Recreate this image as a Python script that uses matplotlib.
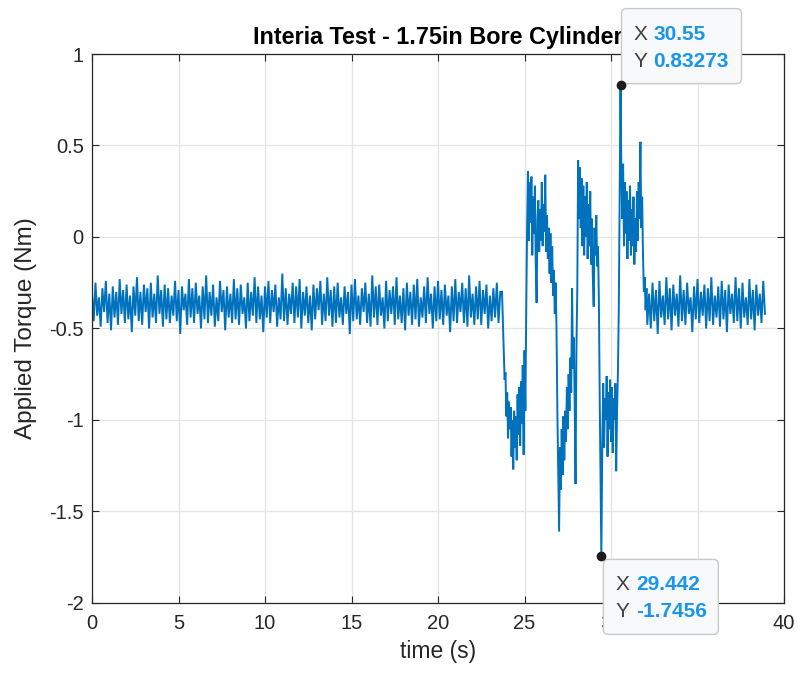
import numpy as np
import matplotlib
matplotlib.use('Agg')
import matplotlib.pyplot as plt
import matplotlib.transforms as mtransforms
from matplotlib.patches import FancyBboxPatch

plt.rcParams['font.family'] = ['Liberation Sans', 'DejaVu Sans']

############ data ##################################################################

dt = 0.1  # sample spacing used for the quiet stretches (s)

# quiet stretch before the test, t = 0 .. 23.6 s
quiet_before = [
    -0.31,-0.46,-0.25,-0.43,-0.33,-0.49,-0.28,-0.41,-0.24,-0.47,-0.31,-0.51,-0.27,-0.44,-0.30,-0.48,-0.23,-0.42,-0.29,-0.47,
    -0.26,-0.45,-0.32,-0.52,-0.27,-0.43,-0.22,-0.46,-0.30,-0.48,-0.26,-0.41,-0.28,-0.50,-0.25,-0.44,-0.31,-0.47,-0.21,-0.42,
    -0.29,-0.49,-0.26,-0.45,-0.28,-0.47,-0.32,-0.43,-0.24,-0.46,-0.29,-0.53,-0.27,-0.40,-0.31,-0.48,-0.23,-0.44,-0.28,-0.47,
    -0.25,-0.42,-0.32,-0.50,-0.27,-0.45,-0.21,-0.47,-0.30,-0.43,-0.26,-0.49,-0.33,-0.46,-0.24,-0.41,-0.29,-0.51,-0.27,-0.44,
    -0.31,-0.47,-0.23,-0.45,-0.28,-0.48,-0.26,-0.42,-0.33,-0.50,-0.25,-0.46,-0.30,-0.43,-0.22,-0.47,-0.27,-0.45,-0.32,-0.52,
    -0.27,-0.44,-0.24,-0.47,-0.29,-0.41,-0.26,-0.49,-0.33,-0.45,-0.20,-0.46,-0.28,-0.48,-0.31,-0.42,-0.25,-0.47,-0.27,-0.44,
    -0.23,-0.50,-0.30,-0.43,-0.27,-0.47,-0.32,-0.51,-0.26,-0.45,-0.28,-0.40,-0.24,-0.48,-0.31,-0.46,-0.22,-0.43,-0.29,-0.49,
    -0.27,-0.47,-0.25,-0.44,-0.33,-0.48,-0.27,-0.42,-0.30,-0.53,-0.26,-0.46,-0.23,-0.45,-0.32,-0.48,-0.28,-0.41,-0.25,-0.47,
    -0.31,-0.49,-0.21,-0.44,-0.27,-0.48,-0.26,-0.43,-0.33,-0.50,-0.24,-0.46,-0.29,-0.42,-0.27,-0.48,-0.22,-0.45,-0.32,-0.47,
    -0.28,-0.51,-0.25,-0.43,-0.30,-0.48,-0.26,-0.45,-0.23,-0.49,-0.33,-0.44,-0.27,-0.47,-0.22,-0.42,-0.31,-0.50,-0.27,-0.46,
    -0.24,-0.45,-0.29,-0.48,-0.26,-0.43,-0.32,-0.52,-0.27,-0.46,-0.23,-0.47,-0.30,-0.41,-0.25,-0.47,-0.28,-0.49,-0.21,-0.44,
    -0.31,-0.48,-0.27,-0.45,-0.24,-0.48,-0.29,-0.42,-0.26,-0.50,-0.32,-0.46,-0.28,-0.44,-0.25,-0.47,-0.30,
]

# the test itself, explicit times (s) and torque (Nm)
event_t = [23.7, 23.75, 23.8, 23.85, 23.9, 23.95, 24.0, 24.05, 24.1, 24.15, 24.2, 24.25, 24.3, 24.35,
           24.4, 24.45, 24.5, 24.55, 24.6, 24.65, 24.7, 24.75, 24.8, 24.85, 24.9, 24.95, 25.0, 25.05,
           25.1, 25.15, 25.2, 25.25, 25.3, 25.35, 25.4, 25.45, 25.5, 25.55, 25.6, 25.65, 25.7, 25.75,
           25.8, 25.85, 25.9, 25.95, 26.0, 26.05, 26.1, 26.15, 26.2, 26.25, 26.3, 26.35, 26.4, 26.45,
           26.5, 26.55, 26.6, 26.65, 26.7, 26.75, 26.8, 26.85, 26.9, 26.95, 27.0, 27.05, 27.1, 27.15,
           27.2, 27.25, 27.3, 27.35, 27.4, 27.45, 27.5, 27.55, 27.6, 27.65, 27.7, 27.75, 27.8, 27.85,
           27.9, 27.95, 28.0, 28.05, 28.1, 28.15, 28.2, 28.25, 28.3, 28.35, 28.4, 28.45, 28.5, 28.55,
           28.6, 28.65, 28.7, 28.75, 28.8, 28.85, 28.9, 28.95, 29.0, 29.05, 29.1, 29.15, 29.2, 29.25,
           29.3, 29.35, 29.442, 29.5, 29.55, 29.6, 29.65, 29.7, 29.75, 29.8, 29.85, 29.9, 29.95, 30.0,
           30.05, 30.1, 30.15, 30.2, 30.25, 30.3, 30.35, 30.4, 30.45, 30.55, 30.6, 30.65, 30.7, 30.75,
           30.8, 30.85, 30.9, 30.95, 31.0, 31.05, 31.1, 31.15, 31.2, 31.25, 31.3, 31.35, 31.4, 31.45,
           31.5, 31.55, 31.6, 31.65, 31.7, 31.75, 31.8, 31.85, 31.9, 31.95, 32.0, 32.05, 32.1]
event_v = [-0.30, -0.46, -0.62, -0.78, -0.74, -0.98, -0.85, -1.10, -0.90, -1.05, -0.93, -1.20, -1.00, -1.27,
           -0.95, -1.15, -0.98, -1.22, -0.86, -1.08, -0.82, -1.14, -0.79, -1.02, -0.70, -1.19, -0.62, -0.95,
           -0.40, 0.05, 0.36, -0.02, 0.30, 0.08, 0.33, -0.10, 0.22, 0.02, 0.28, -0.15, -0.36, 0.10,
           0.20, -0.08, 0.15, -0.02, 0.30, -0.05, 0.18, 0.03, 0.34, -0.08, 0.12, -0.12, 0.05, -0.20,
           0.02, -0.25, -0.05, -0.32, -0.18, -0.42, -0.25, -0.50, -0.95, -1.30, -1.61, -1.15, -1.38, -1.05,
           -1.30, -0.98, -1.22, -0.95, -1.12, -0.82, -1.05, -0.75, -0.95, -0.66, -0.85, -0.28, -0.72, -0.55,
           -0.90, -1.35, -0.62, -0.30, 0.42, 0.10, 0.38, 0.05, 0.32, -0.05, 0.28, -0.10, 0.22, 0.00,
           0.30, -0.12, 0.18, -0.05, 0.25, -0.15, 0.10, -0.22, -0.38, 0.05, -0.10, 0.12, -0.16, -0.05,
           -0.35, -0.90, -1.7456, -1.10, -0.80, -1.15, -0.88, -1.00, -0.76, -1.20, -0.85, -1.05, -0.78, -1.12,
           -0.82, -1.18, -0.88, -1.00, -0.80, -1.28, -0.95, -0.74, -0.40, 0.83273, 0.35, 0.10, 0.40, -0.05,
           0.30, 0.02, 0.25, -0.12, 0.20, -0.02, 0.28, -0.10, 0.15, -0.05, 0.22, -0.15, 0.10, -0.08,
           0.25, -0.02, 0.30, 0.10, 0.52, 0.05, 0.22, -0.10, -0.30, -0.22, -0.40, -0.28, -0.48]

# quiet stretch after the test, t = 32.2 .. 38.9 s
quiet_after_start = 32.2
quiet_after = [
    -0.31,-0.50,-0.25,-0.46,-0.29,-0.53,-0.24,-0.44,-0.32,-0.48,-0.22,-0.45,-0.28,-0.51,-0.26,-0.43,-0.31,-0.49,-0.21,-0.46,
    -0.29,-0.48,-0.25,-0.42,-0.33,-0.52,-0.27,-0.45,-0.23,-0.47,-0.30,-0.43,-0.26,-0.50,-0.28,-0.46,-0.22,-0.48,-0.32,-0.44,
    -0.27,-0.49,-0.24,-0.45,-0.29,-0.52,-0.26,-0.42,-0.31,-0.47,-0.22,-0.46,-0.28,-0.50,-0.25,-0.44,-0.33,-0.48,-0.23,-0.45,
    -0.29,-0.51,-0.26,-0.43,-0.31,-0.47,-0.24,-0.42,
]

# data tips shown on the figure
tip_points = [(30.55, 0.83273), (29.442, -1.7456)]
tip_labels = [('30.55', '0.83273'), ('29.442', '-1.7456')]

############ build the series ######################################################

t = np.concatenate([np.arange(len(quiet_before)) * dt,
                    np.array(event_t),
                    quiet_after_start + np.arange(len(quiet_after)) * dt])
torque = np.concatenate([quiet_before, event_v, quiet_after])

############ plot ##################################################################

fig = plt.figure(figsize=(8, 6.75), dpi=100)
ax = fig.add_axes([0.115, 0.1067, 0.865, 0.8133])

ax.plot(t, torque, color='#0072BD', lw=1.4, solid_joinstyle='miter')

ax.set_xlim(0, 40)
ax.set_ylim(-2, 1)
ax.set_xticks(np.arange(0, 41, 5))
ax.set_yticks([-2, -1.5, -1, -0.5, 0, 0.5, 1])
ax.set_yticklabels(['-2', '-1.5', '-1', '-0.5', '0', '0.5', '1'])
ax.grid(True, color='#e3e3e3', lw=0.9)
ax.set_axisbelow(True)
for s in ax.spines.values():
    s.set_color('#262626')
    s.set_linewidth(0.9)
ax.tick_params(direction='in', length=5, width=0.8, colors='#262626',
               labelsize=14.5, top=True, right=True)
ax.tick_params(axis='x', pad=8)
ax.tick_params(axis='y', pad=6)

ax.set_title('Interia Test - 1.75in Bore Cylinder', fontsize=16.8, fontweight='bold',
             color='black', pad=7)
ax.set_xlabel('time (s)', fontsize=16.5, color='#262626', labelpad=5)
ax.set_ylabel('Applied Torque (Nm)', fontsize=17.5, color='#262626', labelpad=9)

# data tips: box offsets in pixels (dpi 100 -> 0.01 in per px)
box_specs = [
    # (box x0, y0, w, h), text x, line-1 y, line-2 y, value x
    ((0.01, 0.01, 1.20, 0.75), 0.13, 0.50, 0.23, 0.33),
    ((0.02, -0.78, 1.15, 0.75), 0.14, -0.28, -0.55, 0.35),
]
for (px, py), (xs, ys), spec in zip(tip_points, tip_labels, box_specs):
    (bx, by, bw, bh), tx, ly1, ly2, vx = spec
    tr = fig.dpi_scale_trans + mtransforms.ScaledTranslation(px, py, ax.transData)
    box = FancyBboxPatch((bx, by), bw, bh, boxstyle='round,pad=0,rounding_size=0.05',
                         transform=tr, facecolor='#f8f9fb', edgecolor='#c9c9c9',
                         lw=1.0, zorder=5, clip_on=False)
    ax.add_patch(box)
    for ly, name, val in [(ly1, 'X', xs), (ly2, 'Y', ys)]:
        ax.text(tx, ly, name, transform=tr, fontsize=15, color='#404040',
                va='center', ha='left', zorder=6, clip_on=False)
        ax.text(vx, ly, val, transform=tr, fontsize=15, color='#1a95ec',
                fontweight='bold', va='center', ha='left', zorder=6, clip_on=False)
    ax.plot(px, py, 'o', color='#1c1c1c', ms=6, zorder=7, clip_on=False)

fig.savefig('out.png', dpi=100)
